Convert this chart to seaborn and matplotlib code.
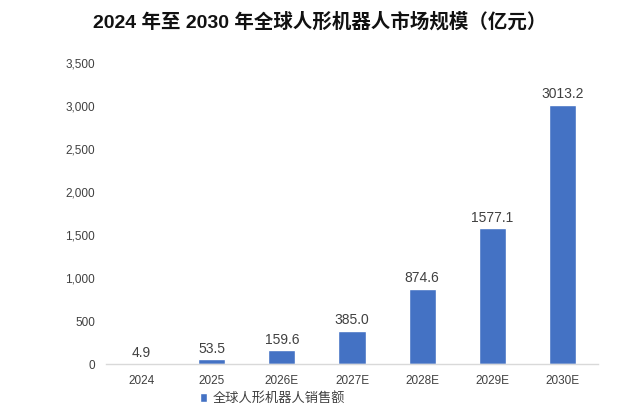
import matplotlib
matplotlib.use("Agg")
import matplotlib.pyplot as plt
import seaborn as sns
import pandas as pd
from matplotlib.ticker import FuncFormatter

years = ["2024", "2025", "2026E", "2027E", "2028E", "2029E", "2030E"]
sales = [4.9, 53.5, 159.6, 385.0, 874.6, 1577.1, 3013.2]
series_name = "全球人形机器人销售额"
title = "2024 年至 2030 年全球人形机器人市场规模（亿元）"

df = pd.DataFrame({"year": years, "sales": sales, "series": series_name})

sns.set_theme(style="white")
plt.rcParams['font.family'] = ['Liberation Sans', 'Noto Sans CJK SC', 'DejaVu Sans']

fig = plt.figure(figsize=(6.4, 4.17), dpi=100)
ax = fig.add_axes([0.166, 0.127, 0.768, 0.722])

sns.barplot(data=df, x="year", y="sales", hue="series", palette=["#4472C4"],
            saturation=1, width=0.39, ax=ax, legend=True)

for i, v in enumerate(sales):
    ax.text(i, v + 40, f"{v:.1f}", ha="center", va="bottom", fontsize=10, color="#404040")

ax.set_ylim(0, 3500)
ax.set_xlim(-0.5, 6.5)
ax.set_yticks(range(0, 3501, 500))
ax.yaxis.set_major_formatter(FuncFormatter(lambda v, p: f"{int(v):,}"))
ax.tick_params(axis="both", labelsize=8.5, colors="#404040", length=0, pad=8)
ax.set_xlabel("")
ax.set_ylabel("")
for s in ["top", "right", "left"]:
    ax.spines[s].set_visible(False)
ax.spines["bottom"].set_color("#D9D9D9")
ax.spines["bottom"].set_linewidth(1)

leg = ax.legend(loc="center", bbox_to_anchor=(0.338, -0.115), frameon=False,
                handlelength=0.6, handleheight=0.6, handletextpad=0.4,
                prop={"family": ["Noto Sans CJK SC"], "size": 9.5})
for t in leg.get_texts():
    t.set_color("#404040")

fig.text(0.5, 0.948, title, ha="center", va="center", fontsize=14, fontweight="bold",
         family=["Liberation Sans", "Noto Sans CJK SC"], color="#111111")

fig.savefig("out.png", dpi=100)
